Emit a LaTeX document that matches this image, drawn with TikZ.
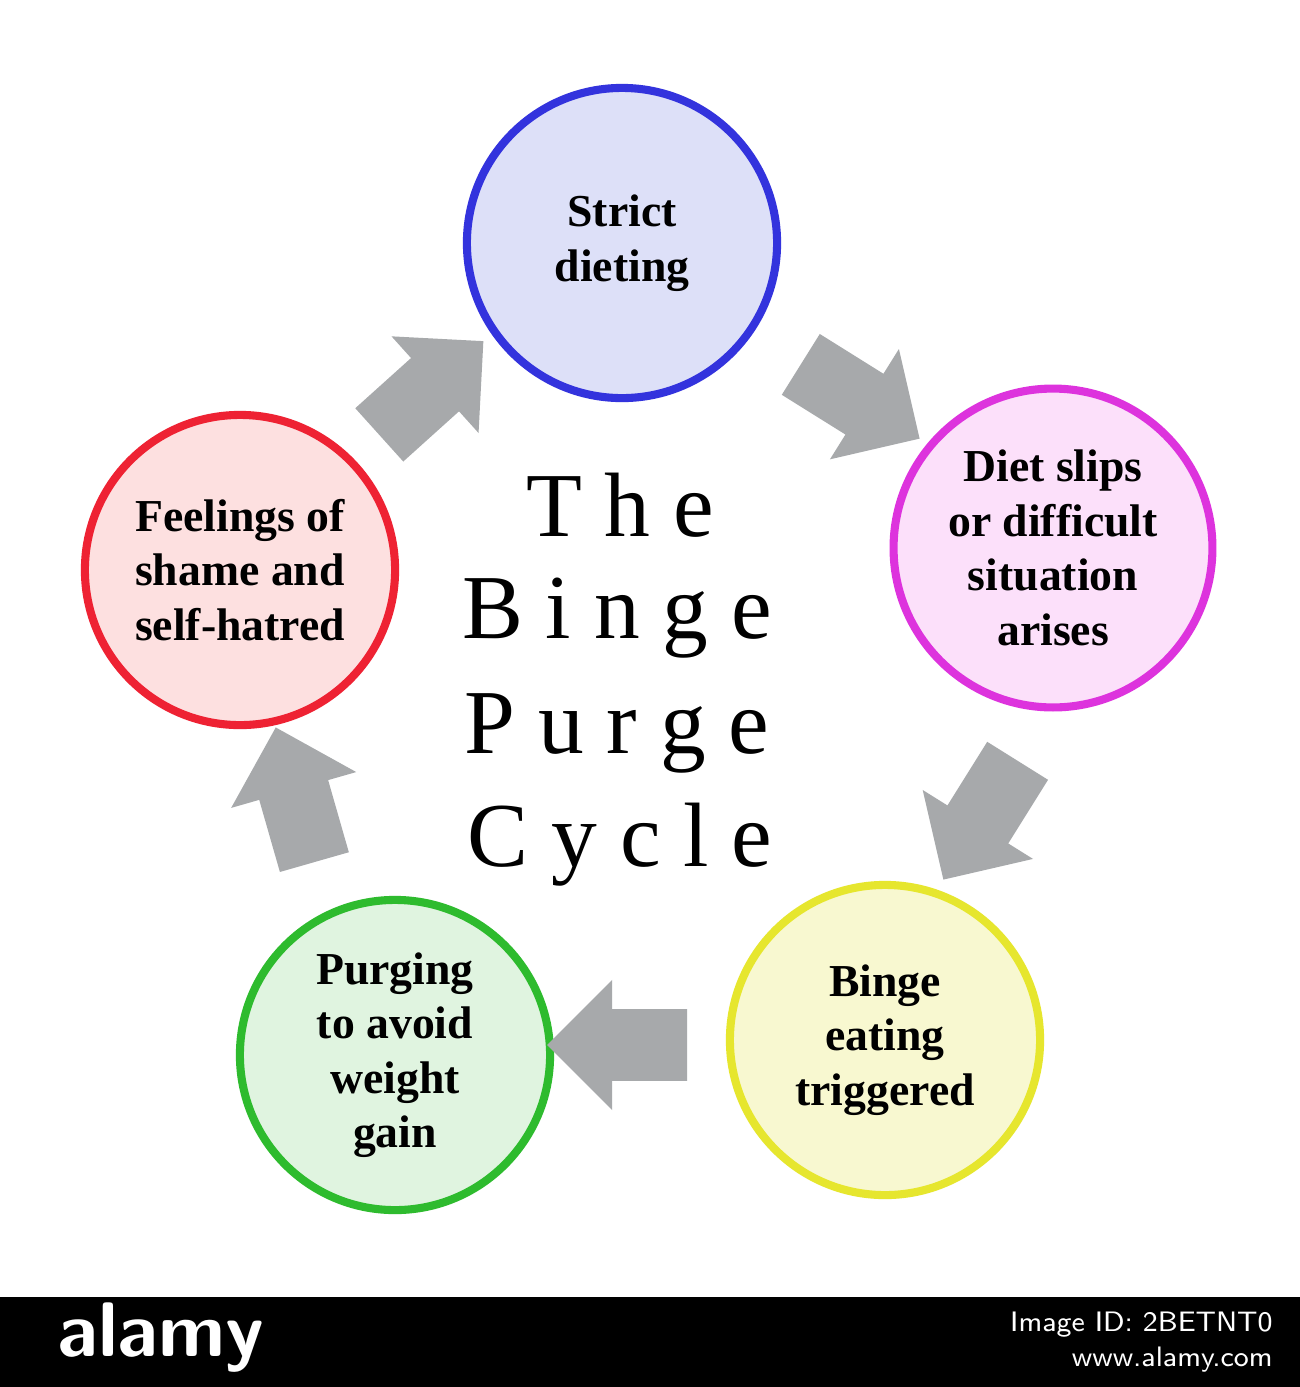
\documentclass[tikz,border=0pt]{standalone}
\usepackage{fontspec}
\setmainfont{Liberation Serif}
\usetikzlibrary{shapes.arrows}
\definecolor{arr}{HTML}{A7A9AB}
\tikzset{
  circ/.style={circle, line width=2.3pt, minimum size=3.1cm, align=center, font=\bfseries\fontsize{13}{15.5}\selectfont},
  barrow/.style={single arrow, fill=arr, draw=none, minimum width=1.3cm, minimum height=1.4cm, inner xsep=0pt, inner ysep=0.3cm, text height=0pt, text depth=0pt, single arrow head indent=0pt},
  ttl/.style={font=\fontsize{26}{30}\selectfont}
}
\begin{document}
\begin{tikzpicture}[x=0.01cm,y=-0.01cm]
\useasboundingbox (0,0) rectangle (1300,1387);
\fill[white] (0,0) rectangle (1300,1297);
\node[circ, draw={rgb,255:red,51;green,51;blue,221}, fill={rgb,255:red,221;green,224;blue,248}] (a) at (622,243) {Strict\\dieting};
\node[circ, draw={rgb,255:red,221;green,51;blue,221}, fill={rgb,255:red,252;green,224;blue,250}] (b) at (1053,548) {Diet slips\\or difficult\\situation\\arises};
\node[circ, draw={rgb,255:red,230;green,230;blue,46}, fill={rgb,255:red,248;green,248;blue,208}] (c) at (885,1040) {Binge\\eating\\triggered};
\node[circ, draw={rgb,255:red,46;green,187;blue,46}, fill={rgb,255:red,224;green,244;blue,224}] (d) at (395,1055) {Purging\\to avoid\\weight\\gain};
\node[circ, draw={rgb,255:red,238;green,34;blue,51}, fill={rgb,255:red,253;green,224;blue,224}] (e) at (240,570) {Feelings of\\shame and\\self-hatred};
\node[barrow, rotate=42] (ea) at (418,400) {};
\node[barrow, rotate=-32] (ab) at (845,392) {};
\node[barrow, rotate=-122] (bc) at (990,805) {};
\node[barrow, rotate=180] (cd) at (635,1045) {};
\node[barrow, rotate=106] (de) at (300,812) {};
\node[ttl] (t1) at (620,505) {T h e};
\node[ttl] (t2) at (617,618) {B i n g e};
\node[ttl] (t3) at (617,733) {P u r g e};
\node[ttl] (t4) at (620,845) {C y c l e};
\fill[black] (0,1297) rectangle (1300,1387);
\node[white, anchor=west, font=\fontsize{22}{24}\selectfont\sffamily\bfseries] (wm) at (45,1338) {alamy};
\node[white, font=\fontsize{8}{10}\selectfont\sffamily, align=right, anchor=east] (wid) at (1285,1342) {Image ID: 2BETNT0\\www.alamy.com};
\end{tikzpicture}
\end{document}
